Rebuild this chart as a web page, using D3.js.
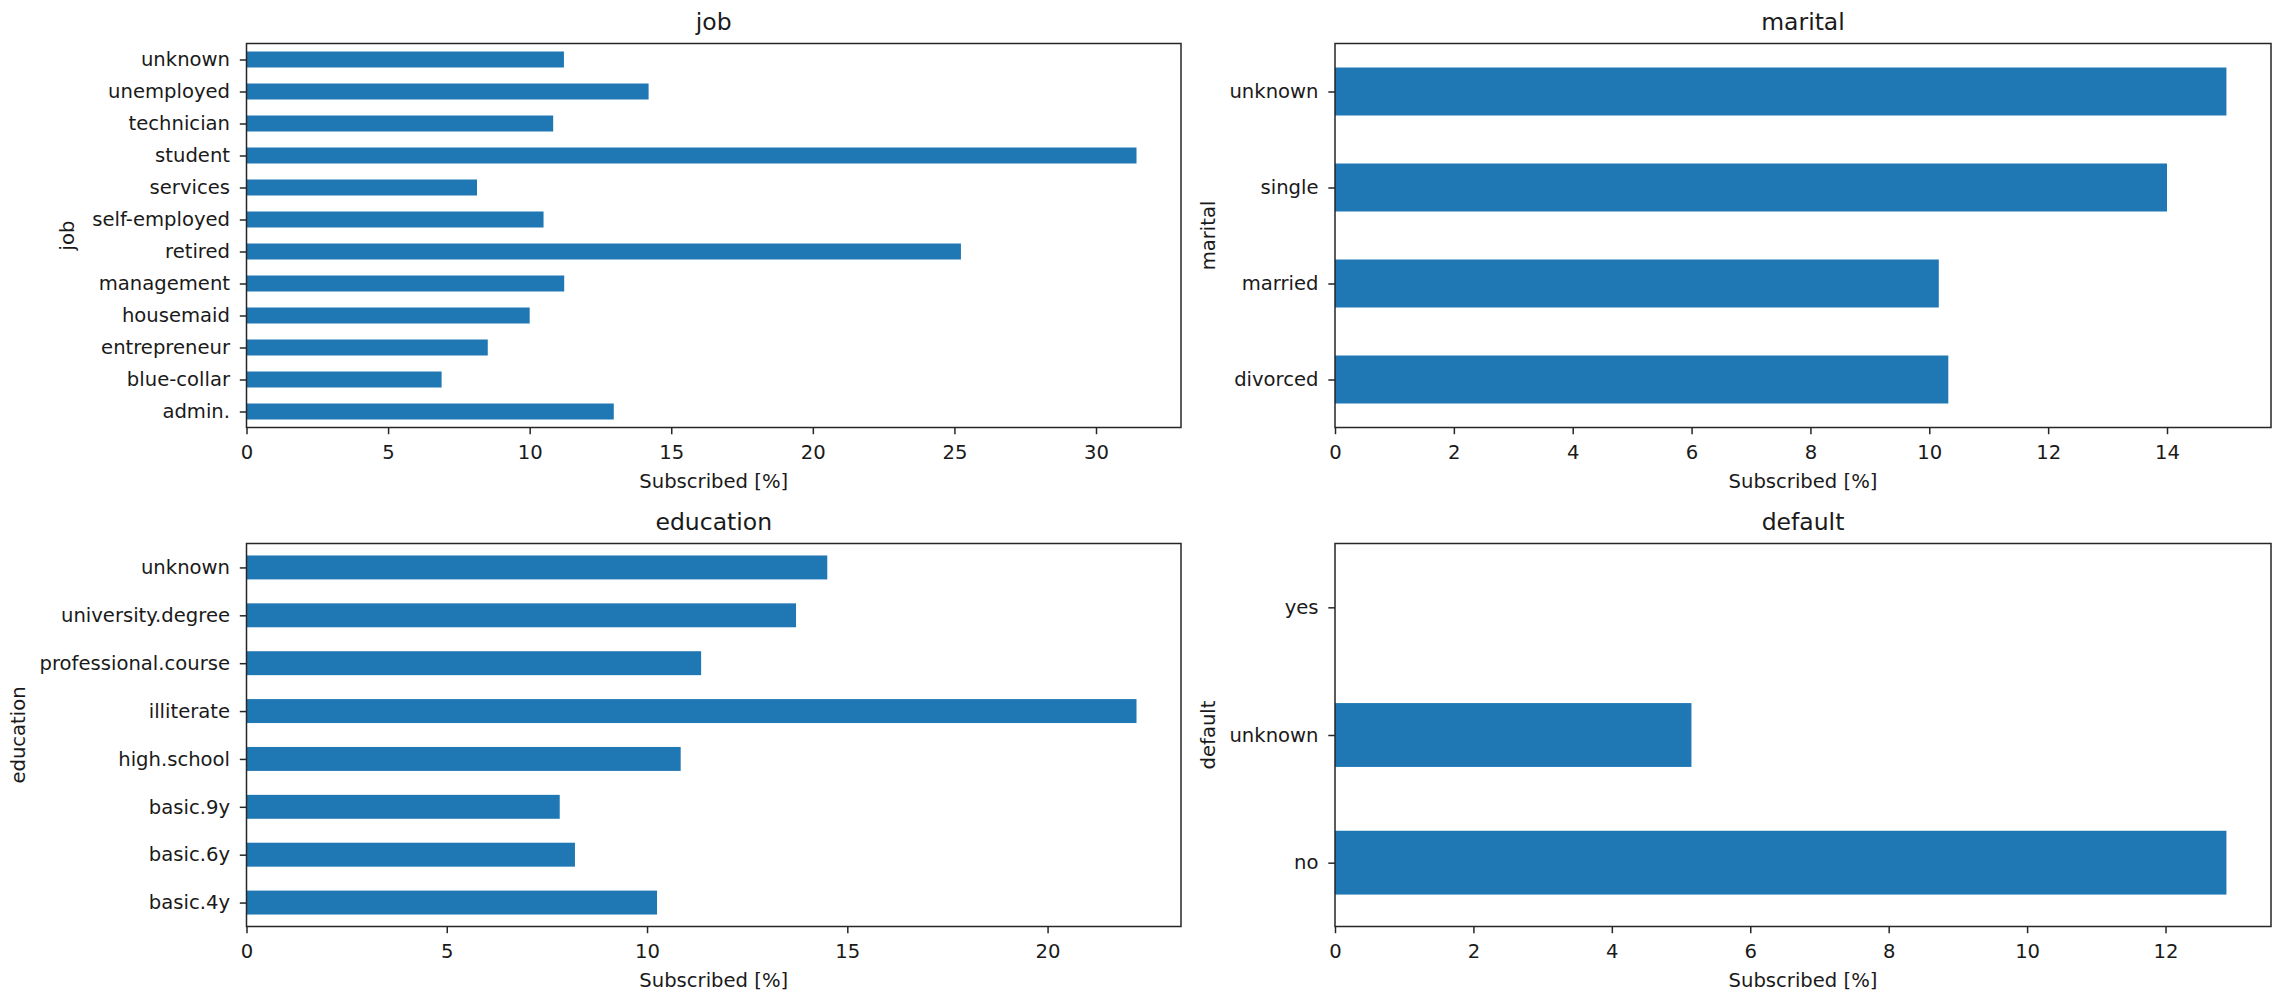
<!DOCTYPE html>
<html>
<head>
<meta charset="utf-8">
<script src="https://cdn.jsdelivr.net/npm/d3@7/dist/d3.min.js"></script>
<style>
  html, body { margin: 0; padding: 0; background: #fff; }
  svg { display: block; }
  text { font-family: "DejaVu Sans", sans-serif; fill: #1a1a1a; }
</style>
</head>
<body>
<svg id="chart" width="2290" height="1000"></svg>
<script>
// ---------- data ----------
const jobCategories = ["admin.", "blue-collar", "entrepreneur", "housemaid", "management", "retired",
  "self-employed", "services", "student", "technician", "unemployed", "unknown"];
const jobValues = [12.97, 6.89, 8.52, 10.00, 11.22, 25.23, 10.49, 8.14, 31.43, 10.83, 14.20, 11.21];
const jobTicks = [0, 5, 10, 15, 20, 25, 30];

const maritalCategories = ["divorced", "married", "single", "unknown"];
const maritalValues = [10.32, 10.16, 14.00, 15.00];
const maritalTicks = [0, 2, 4, 6, 8, 10, 12, 14];

const educationCategories = ["basic.4y", "basic.6y", "basic.9y", "high.school", "illiterate",
  "professional.course", "university.degree", "unknown"];
const educationValues = [10.25, 8.20, 7.82, 10.84, 22.22, 11.35, 13.72, 14.50];
const educationTicks = [0, 5, 10, 15, 20];

const defaultCategories = ["no", "unknown", "yes"];
const defaultValues = [12.88, 5.15, 0];
const defaultTicks = [0, 2, 4, 6, 8, 10, 12];

const xLabel = "Subscribed [%]";

// ---------- layout ----------
const svg = d3.select("#chart");
svg.append("rect").attr("width", 2290).attr("height", 1000).attr("fill", "#fff");

const COL = [[246.5, 1181], [1335, 2271]];
const ROW = [[43.5, 427.5], [543.5, 926.5]];
const BAR = "#1f77b4";
const TICK_FS = 19.6, TITLE_FS = 23.5;

const panels = [
  { title: "job", cats: jobCategories, vals: jobValues, ticks: jobTicks, col: 0, row: 0, ylabX: 68 },
  { title: "marital", cats: maritalCategories, vals: maritalValues, ticks: maritalTicks, col: 1, row: 0, ylabX: 1209 },
  { title: "education", cats: educationCategories, vals: educationValues, ticks: educationTicks, col: 0, row: 1, ylabX: 19.5 },
  { title: "default", cats: defaultCategories, vals: defaultValues, ticks: defaultTicks, col: 1, row: 1, ylabX: 1209 }
];

panels.forEach(p => {
  const [x0, x1] = COL[p.col];
  const [y0, y1] = ROW[p.row];
  const n = p.cats.length;
  const x = d3.scaleLinear().domain([0, d3.max(p.vals) * 1.05]).range([x0, x1]);
  const y = d3.scaleLinear().domain([-0.5, n - 0.5]).range([y1, y0]);
  const bandH = Math.abs(y(1) - y(0));
  const g = svg.append("g");

  // bars
  g.selectAll("rect.bar").data(p.cats.map((c, i) => ({ c, i, v: p.vals[i] })))
    .enter().append("rect")
    .attr("class", "bar")
    .attr("x", x(0))
    .attr("y", d => y(d.i) - bandH * 0.25)
    .attr("width", d => x(d.v) - x(0))
    .attr("height", bandH * 0.5)
    .attr("fill", BAR);

  // x axis
  const xa = g.append("g").attr("transform", `translate(0,${y1})`)
    .call(d3.axisBottom(x).tickValues(p.ticks).tickFormat(d3.format("d"))
      .tickSize(6.7).tickPadding(10.4));
  // y axis
  const ya = g.append("g").attr("transform", `translate(${x0},0)`)
    .call(d3.axisLeft(y).tickValues(d3.range(n)).tickFormat(i => p.cats[i])
      .tickSize(6.7).tickPadding(9.8));
  [xa, ya].forEach(a => {
    a.select(".domain").remove();
    a.selectAll(".tick line").attr("stroke", "#262626").attr("stroke-width", 1.5);
    a.selectAll(".tick text").attr("font-size", TICK_FS).attr("fill", "#1a1a1a")
      .style("font-family", '"DejaVu Sans", sans-serif');
  });

  // frame
  g.append("rect")
    .attr("x", x0).attr("y", y0)
    .attr("width", x1 - x0).attr("height", y1 - y0)
    .attr("fill", "none").attr("stroke", "#262626").attr("stroke-width", 1.5);

  // title
  g.append("text")
    .attr("x", (x0 + x1) / 2).attr("y", y0 - 13.5)
    .attr("text-anchor", "middle").attr("font-size", TITLE_FS)
    .text(p.title);

  // x label
  g.append("text")
    .attr("x", (x0 + x1) / 2).attr("y", y1 + 60.5)
    .attr("text-anchor", "middle").attr("font-size", TICK_FS)
    .text(xLabel);

  // y label
  const cy = (y0 + y1) / 2;
  g.append("text")
    .attr("transform", `translate(${p.ylabX},${cy}) rotate(-90)`)
    .attr("text-anchor", "middle").attr("dy", "0.3em").attr("font-size", TICK_FS)
    .text(p.title);
});
</script>
</body>
</html>
